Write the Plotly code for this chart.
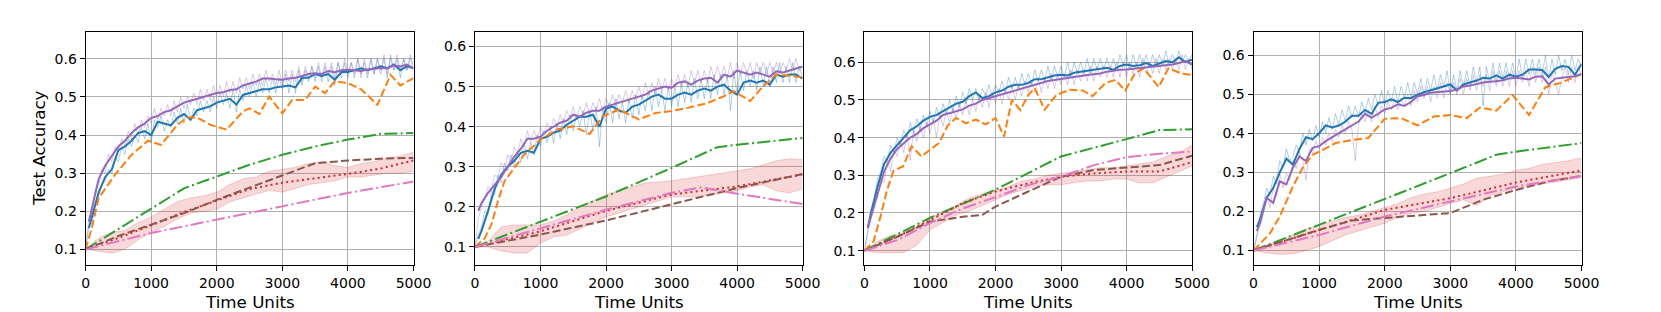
import plotly.graph_objects as go

# ---------------- shared sample positions ----------------
X_RAW = list(range(0, 5001, 50))
X_MAIN = [50] + list(range(100, 5001, 100))
X_BAND = list(range(0, 5001, 200))
X_TICKS = [0, 1000, 2000, 3000, 4000, 5000]
Y_TICKS = [0.1, 0.2, 0.3, 0.4, 0.5, 0.6]
X_TITLE = "Time Units"
Y_TITLE = "Test Accuracy"

# ---------------- panel 1 ----------------
P1_BLUE_RAW = [.10,.16,.17,.22,.24,.27,.28,.31,.30,.34,
               .33,.37,.35,.39,.37,.40,.38,.42,.39,.43,
               .38,.44,.42,.45,.41,.44,.42,.46,.43,.47,
               .43,.48,.44,.47,.45,.49,.46,.49,.46,.50,
               .47,.51,.48,.51,.47,.52,.46,.52,.49,.53,
               .50,.54,.50,.54,.51,.55,.51,.55,.51,.55,
               .52,.56,.51,.56,.51,.57,.53,.57,.54,.58,
               .54,.58,.54,.58,.54,.58,.53,.59,.55,.59,
               .55,.59,.55,.60,.56,.59,.55,.60,.56,.60,
               .56,.60,.55,.61,.57,.60,.55,.60,.57,.61,
               .58]
P1_PURPLE_RAW = [.10,.18,.20,.26,.27,.31,.30,.35,.33,.37,
                 .36,.39,.37,.41,.39,.43,.40,.44,.42,.45,
                 .43,.47,.44,.47,.45,.48,.45,.49,.46,.50,
                 .47,.50,.48,.51,.48,.52,.49,.52,.49,.53,
                 .50,.53,.50,.54,.51,.54,.51,.55,.52,.55,
                 .52,.56,.53,.56,.53,.57,.54,.56,.53,.57,
                 .53,.57,.54,.57,.54,.58,.54,.58,.55,.58,
                 .55,.59,.55,.59,.56,.59,.55,.59,.56,.60,
                 .56,.59,.56,.60,.55,.60,.56,.60,.56,.60,
                 .57,.61,.56,.60,.57,.61,.57,.60,.57,.60,
                 .57]
P1_BLUE = [.156,.19,.25,.29,.31,.36,.37,.385,.405,.41,.40,
           .435,.43,.425,.445,.455,.44,.465,.47,.475,.485,
           .49,.495,.48,.505,.51,.515,.52,.52,.525,.527,
           .53,.525,.55,.55,.56,.555,.56,.545,.565,.565,
           .57,.575,.57,.575,.58,.575,.585,.57,.58,.575]
P1_PURPLE = [.173,.21,.285,.32,.345,.37,.385,.405,.42,.43,.445,
             .45,.46,.465,.475,.485,.49,.495,.50,.505,.51,
             .512,.518,.52,.53,.535,.54,.548,.548,.546,.545,
             .548,.55,.555,.56,.562,.56,.568,.565,.57,.571,
             .57,.568,.572,.575,.576,.575,.583,.58,.585,.575]
P1_ORANGE_X = [0,100,200,450,700,950,1150,1400,1550,1700,1900,2150,2400,2500,2650,2800,
               3000,3150,3350,3500,3650,3800,4000,4200,4450,4650,4800,5000]
P1_ORANGE = [.1,.16,.235,.296,.348,.385,.374,.427,.446,.446,.427,.414,.462,.47,.455,.501,
             .457,.492,.492,.527,.51,.541,.536,.52,.479,.558,.53,.549]
P1_GREEN_X = [0,500,1000,1500,2000,2500,3000,3500,4000,4500,5000]
P1_GREEN = [.1,.153,.206,.26,.291,.322,.348,.37,.388,.403,.405]
P1_BROWN_X = [0,500,1000,1500,2000,2500,3000,3500,4000,4500,5000]
P1_BROWN = [.1,.135,.165,.195,.23,.262,.295,.326,.333,.338,.34]
P1_RED_X = [0,500,1000,1500,2000,2500,3000,3500,4000,4500,5000]
P1_RED = [.1,.13,.163,.198,.228,.258,.275,.287,.298,.312,.333]
P1_PINK_X = [0,1000,2000,3000,4000,5000]
P1_PINK = [.1,.143,.178,.213,.248,.278]
P1_BAND_LO = [.10,.095,.09,.10,.125,.145,.16,.18,.195,.20,.205,.225,.235,.245,.255,.25,
              .26,.27,.275,.28,.29,.29,.295,.30,.30,.305]
P1_BAND_HI = [.10,.13,.145,.15,.17,.185,.205,.225,.235,.24,.25,.27,.285,.29,.305,.31,
              .315,.325,.33,.32,.315,.325,.33,.34,.345,.355]

# ---------------- panel 2 ----------------
P2_BLUE_RAW = [.10,.13,.15,.19,.18,.24,.23,.28,.26,.31,
               .29,.33,.30,.34,.31,.36,.32,.36,.33,.38,
               .35,.39,.36,.40,.36,.41,.37,.42,.38,.43,
               .39,.43,.40,.44,.38,.44,.39,.45,.35,.45,
               .41,.46,.41,.47,.42,.46,.41,.47,.42,.48,
               .43,.48,.44,.49,.44,.50,.45,.49,.44,.50,
               .45,.50,.45,.51,.46,.51,.46,.52,.47,.52,
               .47,.52,.47,.53,.48,.53,.48,.53,.44,.54,
               .48,.54,.49,.54,.50,.54,.49,.55,.50,.55,
               .50,.55,.51,.56,.51,.55,.51,.56,.51,.55,
               .52]
P2_PURPLE_RAW = [.10,.17,.20,.22,.25,.24,.28,.27,.31,.29,
                 .33,.31,.35,.33,.37,.35,.39,.36,.39,.37,
                 .40,.38,.41,.39,.42,.40,.43,.41,.44,.42,
                 .45,.42,.45,.43,.46,.43,.46,.44,.47,.44,
                 .47,.45,.48,.45,.48,.46,.49,.46,.49,.47,
                 .50,.47,.51,.48,.51,.48,.52,.49,.52,.49,
                 .52,.50,.53,.50,.53,.50,.54,.51,.54,.51,
                 .54,.51,.55,.52,.55,.52,.55,.52,.56,.52,
                 .56,.53,.56,.53,.56,.52,.56,.53,.56,.53,
                 .56,.53,.56,.53,.56,.54,.57,.54,.57,.54,
                 .55]
P2_BLUE = [.12,.14,.19,.245,.28,.30,.315,.335,.34,.335,.37,
           .375,.385,.39,.405,.415,.425,.425,.43,.40,.445,
           .45,.44,.435,.45,.455,.465,.475,.48,.47,.47,
           .48,.485,.48,.49,.495,.49,.50,.505,.49,.48,
           .51,.515,.51,.515,.505,.53,.525,.53,.53,.52]
P2_PURPLE = [.19,.21,.235,.255,.275,.30,.325,.345,.37,.37,.375,
             .39,.40,.41,.415,.43,.425,.435,.44,.44,.45,
             .455,.46,.465,.47,.475,.48,.49,.495,.50,.497,
             .51,.513,.505,.515,.52,.522,.51,.53,.525,.54,
             .535,.53,.535,.53,.525,.538,.535,.54,.545,.55]
P2_ORANGE_X = [0,150,250,350,450,600,750,1000,1250,1500,1750,1950,2200,2500,2750,3000,
               3250,3550,3800,3950,4200,4400,4600,4800,5000]
P2_ORANGE = [.1,.122,.156,.214,.264,.297,.33,.368,.393,.401,.382,.426,.443,.418,.434,.439,
             .447,.459,.476,.489,.464,.501,.53,.527,.523]
P2_GREEN_X = [0,1000,2000,3000,3700,4000,5000]
P2_GREEN = [.1,.164,.226,.297,.349,.355,.372]
P2_BROWN_X = [0,1000,2000,3000,4000,5000]
P2_BROWN = [.1,.131,.166,.206,.247,.282]
P2_RED_X = [0,1000,2000,3000,4000,5000]
P2_RED = [.1,.139,.19,.231,.251,.281]
P2_PINK_X = [0,1000,2000,3000,3450,4000,5000]
P2_PINK = [.1,.147,.193,.235,.249,.233,.207]
P2_BAND_LO = [.10,.10,.09,.085,.085,.11,.125,.13,.145,.16,.175,.185,.195,.205,.215,.225,
              .225,.225,.23,.235,.24,.25,.255,.24,.235,.245]
P2_BAND_HI = [.10,.115,.15,.155,.155,.155,.165,.18,.20,.215,.23,.24,.25,.26,.262,.265,
              .27,.275,.28,.285,.29,.295,.305,.315,.32,.318]

# ---------------- panel 3 ----------------
P3_BLUE_RAW = [.10,.15,.21,.24,.29,.31,.35,.34,.38,.36,
               .40,.38,.42,.40,.44,.41,.45,.42,.46,.43,
               .47,.44,.48,.45,.49,.46,.50,.47,.51,.48,
               .52,.49,.53,.50,.53,.50,.53,.51,.54,.51,
               .54,.52,.55,.52,.56,.53,.56,.53,.57,.54,
               .57,.54,.58,.55,.58,.55,.59,.55,.59,.56,
               .59,.56,.60,.56,.60,.57,.60,.57,.61,.57,
               .61,.58,.61,.58,.61,.58,.61,.58,.62,.59,
               .62,.58,.62,.59,.62,.59,.62,.59,.62,.59,
               .62,.59,.63,.59,.62,.60,.63,.60,.62,.60,
               .62]
P3_PURPLE_RAW = [.10,.15,.19,.23,.24,.29,.28,.34,.31,.37,
                 .35,.39,.36,.41,.34,.42,.39,.43,.40,.44,
                 .41,.45,.40,.46,.43,.47,.44,.48,.45,.49,
                 .46,.50,.46,.50,.47,.51,.48,.52,.48,.52,
                 .49,.53,.49,.53,.50,.54,.50,.54,.51,.55,
                 .52,.55,.52,.56,.52,.56,.53,.57,.53,.57,
                 .54,.57,.54,.58,.54,.58,.55,.58,.55,.59,
                 .55,.59,.56,.59,.56,.59,.56,.60,.56,.60,
                 .56,.60,.57,.60,.56,.61,.57,.60,.57,.61,
                 .57,.61,.58,.61,.58,.61,.58,.62,.58,.61,
                 .58]
P3_BLUE = [.16,.20,.27,.33,.36,.38,.40,.42,.43,.445,.455,
           .46,.47,.48,.49,.495,.51,.52,.505,.51,.52,
           .525,.535,.54,.54,.545,.555,.555,.56,.565,.567,
           .565,.572,.575,.578,.58,.582,.585,.58,.59,.594,
           .59,.592,.598,.59,.596,.603,.60,.613,.60,.607]
P3_PURPLE = [.16,.19,.25,.31,.345,.37,.385,.40,.41,.425,.435,
             .445,.46,.465,.47,.475,.485,.49,.50,.505,.51,
             .515,.52,.525,.53,.535,.54,.545,.55,.553,.556,
             .558,.56,.563,.566,.568,.57,.575,.578,.58,.581,
             .583,.585,.586,.588,.589,.592,.594,.598,.603,.594]
P3_ORANGE_X = [0,140,240,340,440,590,720,870,1140,1270,1400,1550,1700,1850,2000,2130,
               2250,2380,2500,2600,2750,2930,3130,3330,3480,3680,3830,3980,4130,4260,
               4490,4640,4840,5000]
P3_ORANGE = [.1,.125,.187,.258,.311,.324,.377,.35,.386,.432,.452,.438,.448,.435,.452,.403,
             .5,.473,.513,.531,.474,.513,.527,.525,.51,.545,.553,.525,.571,.584,
             .534,.584,.57,.566]
P3_GREEN_X = [0,1000,2000,3000,4000,4500,5000]
P3_GREEN = [.1,.187,.262,.35,.396,.42,.422]
P3_BROWN_X = [0,500,1000,1500,1800,2000,2500,3000,3500,4000,4500,5000]
P3_BROWN = [.1,.137,.177,.19,.195,.217,.257,.296,.314,.32,.327,.352]
P3_RED_X = [0,500,1000,1500,2000,2500,3000,3500,4000,4500,5000]
P3_RED = [.1,.137,.181,.226,.257,.279,.296,.305,.31,.31,.335]
P3_PINK_X = [0,500,1000,1500,2000,2500,3000,3500,4000,4500,5000]
P3_PINK = [.1,.128,.173,.212,.242,.274,.296,.327,.348,.357,.363]
P3_BAND_LO = [.10,.095,.094,.095,.115,.155,.175,.195,.205,.22,.235,.25,.26,.27,.275,.275,
              .28,.285,.285,.29,.29,.28,.28,.295,.31,.325]
P3_BAND_HI = [.10,.125,.14,.145,.165,.19,.20,.22,.24,.25,.26,.27,.285,.29,.30,.305,
              .31,.315,.32,.32,.325,.33,.335,.35,.36,.38]

# ---------------- panel 4 ----------------
P4_BLUE_RAW = [.10,.14,.19,.22,.26,.24,.29,.27,.33,.31,
               .36,.33,.34,.37,.35,.40,.37,.41,.38,.42,
               .39,.43,.40,.44,.41,.45,.42,.46,.43,.47,
               .44,.47,.44,.48,.45,.49,.46,.50,.47,.51,
               .47,.51,.48,.52,.48,.52,.49,.53,.49,.53,
               .50,.54,.50,.54,.51,.55,.51,.55,.52,.56,
               .50,.55,.51,.56,.52,.56,.52,.57,.53,.57,
               .47,.57,.53,.58,.53,.58,.54,.58,.54,.58,
               .54,.59,.54,.59,.55,.59,.55,.59,.55,.60,
               .54,.59,.55,.60,.56,.59,.55,.60,.56,.59,
               .57]
P4_PURPLE_RAW = [.10,.13,.18,.20,.24,.21,.26,.24,.30,.26,
                 .30,.28,.33,.31,.35,.33,.28,.36,.35,.38,
                 .36,.39,.37,.40,.38,.41,.39,.42,.40,.43,
                 .41,.33,.42,.45,.43,.46,.43,.47,.44,.47,
                 .45,.48,.46,.49,.46,.49,.47,.50,.47,.51,
                 .48,.52,.49,.52,.48,.52,.49,.53,.49,.53,
                 .50,.53,.50,.54,.50,.54,.51,.55,.51,.55,
                 .52,.55,.51,.56,.52,.56,.52,.56,.52,.56,
                 .52,.56,.53,.56,.52,.57,.53,.57,.53,.57,
                 .50,.56,.53,.50,.54,.57,.53,.57,.53,.57,
                 .55]
P4_BLUE = [.16,.18,.235,.26,.30,.335,.32,.36,.39,.385,.40,
           .42,.415,.42,.43,.445,.445,.46,.45,.478,.48,
           .487,.48,.491,.49,.499,.505,.51,.515,.52,.525,
           .51,.525,.53,.535,.542,.54,.548,.54,.55,.545,
           .55,.563,.563,.562,.544,.565,.572,.57,.55,.578]
P4_PURPLE = [.15,.17,.235,.222,.277,.269,.312,.341,.329,.363,.367,
             .38,.39,.40,.41,.42,.43,.45,.44,.45,.461,
             .465,.474,.47,.48,.495,.498,.504,.505,.506,.508,
             .512,.52,.522,.526,.53,.532,.533,.536,.54,.542,
             .54,.538,.545,.546,.525,.54,.542,.544,.546,.551]
P4_ORANGE_X = [0,250,400,600,760,900,1000,1250,1500,1750,2000,2250,2500,2750,3000,3250,
               3450,3700,3950,4200,4450,4700,5000]
P4_ORANGE = [.1,.144,.187,.264,.315,.345,.353,.375,.383,.388,.437,.439,.42,.443,.447,.439,
             .466,.458,.498,.447,.518,.53,.552]
P4_GREEN_X = [0,1000,2000,3000,3700,4000,5000]
P4_GREEN = [.1,.166,.23,.298,.345,.353,.375]
P4_BROWN_X = [0,1000,1500,2000,3000,3500,4000,4500,5000]
P4_BROWN = [.1,.153,.177,.183,.196,.23,.255,.277,.291]
P4_RED_X = [0,1000,2000,3000,4000,5000]
P4_RED = [.1,.153,.204,.234,.274,.305]
P4_PINK_X = [0,1000,2000,3000,4000,5000]
P4_PINK = [.1,.14,.187,.225,.264,.291]
P4_BAND_LO = [.10,.094,.09,.092,.10,.11,.125,.14,.15,.16,.17,.185,.195,.20,.21,.22,
              .23,.215,.24,.25,.26,.265,.27,.275,.28,.286]
P4_BAND_HI = [.10,.115,.125,.14,.155,.165,.175,.185,.19,.20,.21,.22,.235,.245,.25,.26,
              .27,.285,.29,.295,.305,.31,.32,.325,.33,.337]

PANELS = [
    dict(blue_raw=P1_BLUE_RAW, purple_raw=P1_PURPLE_RAW, blue=P1_BLUE, purple=P1_PURPLE,
         orange=(P1_ORANGE_X, P1_ORANGE), green=(P1_GREEN_X, P1_GREEN),
         brown=(P1_BROWN_X, P1_BROWN), red=(P1_RED_X, P1_RED), pink=(P1_PINK_X, P1_PINK),
         lo=P1_BAND_LO, hi=P1_BAND_HI),
    dict(blue_raw=P2_BLUE_RAW, purple_raw=P2_PURPLE_RAW, blue=P2_BLUE, purple=P2_PURPLE,
         orange=(P2_ORANGE_X, P2_ORANGE), green=(P2_GREEN_X, P2_GREEN),
         brown=(P2_BROWN_X, P2_BROWN), red=(P2_RED_X, P2_RED), pink=(P2_PINK_X, P2_PINK),
         lo=P2_BAND_LO, hi=P2_BAND_HI),
    dict(blue_raw=P3_BLUE_RAW, purple_raw=P3_PURPLE_RAW, blue=P3_BLUE, purple=P3_PURPLE,
         orange=(P3_ORANGE_X, P3_ORANGE), green=(P3_GREEN_X, P3_GREEN),
         brown=(P3_BROWN_X, P3_BROWN), red=(P3_RED_X, P3_RED), pink=(P3_PINK_X, P3_PINK),
         lo=P3_BAND_LO, hi=P3_BAND_HI),
    dict(blue_raw=P4_BLUE_RAW, purple_raw=P4_PURPLE_RAW, blue=P4_BLUE, purple=P4_PURPLE,
         orange=(P4_ORANGE_X, P4_ORANGE), green=(P4_GREEN_X, P4_GREEN),
         brown=(P4_BROWN_X, P4_BROWN), red=(P4_RED_X, P4_RED), pink=(P4_PINK_X, P4_PINK),
         lo=P4_BAND_LO, hi=P4_BAND_HI),
]

# ---------------- layout geometry (pixels of a 1661x312 canvas) ----------------
W, H = 1661, 312
X_PIX = [(82.7, 415.0), (477.3, 809.3), (872.0, 1204.0), (1266.3, 1598.7)]
Y_TOP, Y_BOT = 31.7, 265.0
Y_RANGES = [(0.059, 0.671), (0.055, 0.637), (0.062, 0.681), (0.063, 0.660)]

BLUE = "#1f77b4"
ORANGE = "#ff7f0e"
GREEN = "#2ca02c"
RED = "#d62728"
PURPLE = "#9467bd"
BROWN = "#8c564b"
PINK = "#e377c2"
DASHED = "8px,3.3px"
DASHDOT = "13px,3.3px,2px,3.3px"
DOTTED = "2px,3.3px"
LW = 2.0
FONT = "DejaVu Sans"

fig = go.Figure()

for i, p in enumerate(PANELS):
    n = "" if i == 0 else str(i + 1)
    xa, ya = "x" + n, "y" + n
    common = dict(xaxis=xa, yaxis=ya, showlegend=False, hoverinfo="skip", mode="lines")
    # shaded band
    fig.add_trace(go.Scatter(x=X_BAND, y=p["lo"], line=dict(color="rgba(214,39,40,0.25)", width=0.8),
                             **common))
    fig.add_trace(go.Scatter(x=X_BAND, y=p["hi"], fill="tonexty", fillcolor="rgba(214,39,40,0.18)",
                             line=dict(color="rgba(214,39,40,0.25)", width=0.8), **common))
    # raw noisy curves
    fig.add_trace(go.Scatter(x=X_RAW, y=p["blue_raw"], line=dict(color="rgba(31,119,180,0.35)", width=1),
                             **common))
    fig.add_trace(go.Scatter(x=X_RAW, y=p["purple_raw"], line=dict(color="rgba(148,103,189,0.35)", width=1),
                             **common))
    # main lines
    fig.add_trace(go.Scatter(x=X_MAIN, y=p["blue"], line=dict(color=BLUE, width=LW), **common))
    fig.add_trace(go.Scatter(x=p["orange"][0], y=p["orange"][1],
                             line=dict(color=ORANGE, width=LW, dash=DASHED), **common))
    fig.add_trace(go.Scatter(x=p["green"][0], y=p["green"][1],
                             line=dict(color=GREEN, width=LW, dash=DASHDOT), **common))
    fig.add_trace(go.Scatter(x=p["red"][0], y=p["red"][1],
                             line=dict(color=RED, width=LW, dash=DOTTED), **common))
    fig.add_trace(go.Scatter(x=X_MAIN, y=p["purple"], line=dict(color=PURPLE, width=LW), **common))
    fig.add_trace(go.Scatter(x=p["brown"][0], y=p["brown"][1],
                             line=dict(color=BROWN, width=LW, dash=DASHED), **common))
    fig.add_trace(go.Scatter(x=p["pink"][0], y=p["pink"][1],
                             line=dict(color=PINK, width=LW, dash=DASHDOT), **common))

axis_common = dict(showline=True, mirror=True, linecolor="black", linewidth=1,
                   ticks="outside", ticklen=5, tickwidth=1, tickcolor="black",
                   showgrid=True, gridcolor="#b0b0b0", gridwidth=1, zeroline=False,
                   tickfont=dict(family=FONT, size=14, color="black"))

layout = dict(width=W, height=H, autosize=False, margin=dict(l=0, r=0, t=0, b=0),
              paper_bgcolor="white", plot_bgcolor="white", annotations=[])

for i in range(4):
    n = "" if i == 0 else str(i + 1)
    x0, x1 = X_PIX[i]
    layout["xaxis" + n] = dict(domain=[x0 / W, x1 / W], range=[0, 5000], tickvals=X_TICKS,
                               ticktext=[str(t) for t in X_TICKS], anchor="y" + n, **axis_common)
    layout["yaxis" + n] = dict(domain=[1 - Y_BOT / H, 1 - Y_TOP / H], range=list(Y_RANGES[i]),
                               tickvals=Y_TICKS, ticktext=["%.1f" % t for t in Y_TICKS],
                               anchor="x" + n, **axis_common)
    layout["annotations"].append(dict(text=X_TITLE, xref="paper", yref="paper",
                                      x=(x0 + x1) / 2 / W, y=1 - 302 / H, xanchor="center",
                                      yanchor="middle", showarrow=False,
                                      font=dict(family=FONT, size=16.7, color="black")))

layout["annotations"].append(dict(text=Y_TITLE, xref="paper", yref="paper", x=36 / W,
                                  y=1 - (Y_TOP + Y_BOT) / 2 / H, xanchor="center", yanchor="middle",
                                  textangle=-90, showarrow=False,
                                  font=dict(family=FONT, size=16.7, color="black")))

fig.update_layout(**layout)
fig.write_html("out.html", config={"displayModeBar": False},
               post_script="document.body.style.margin='0';document.body.style.overflow='hidden';")
